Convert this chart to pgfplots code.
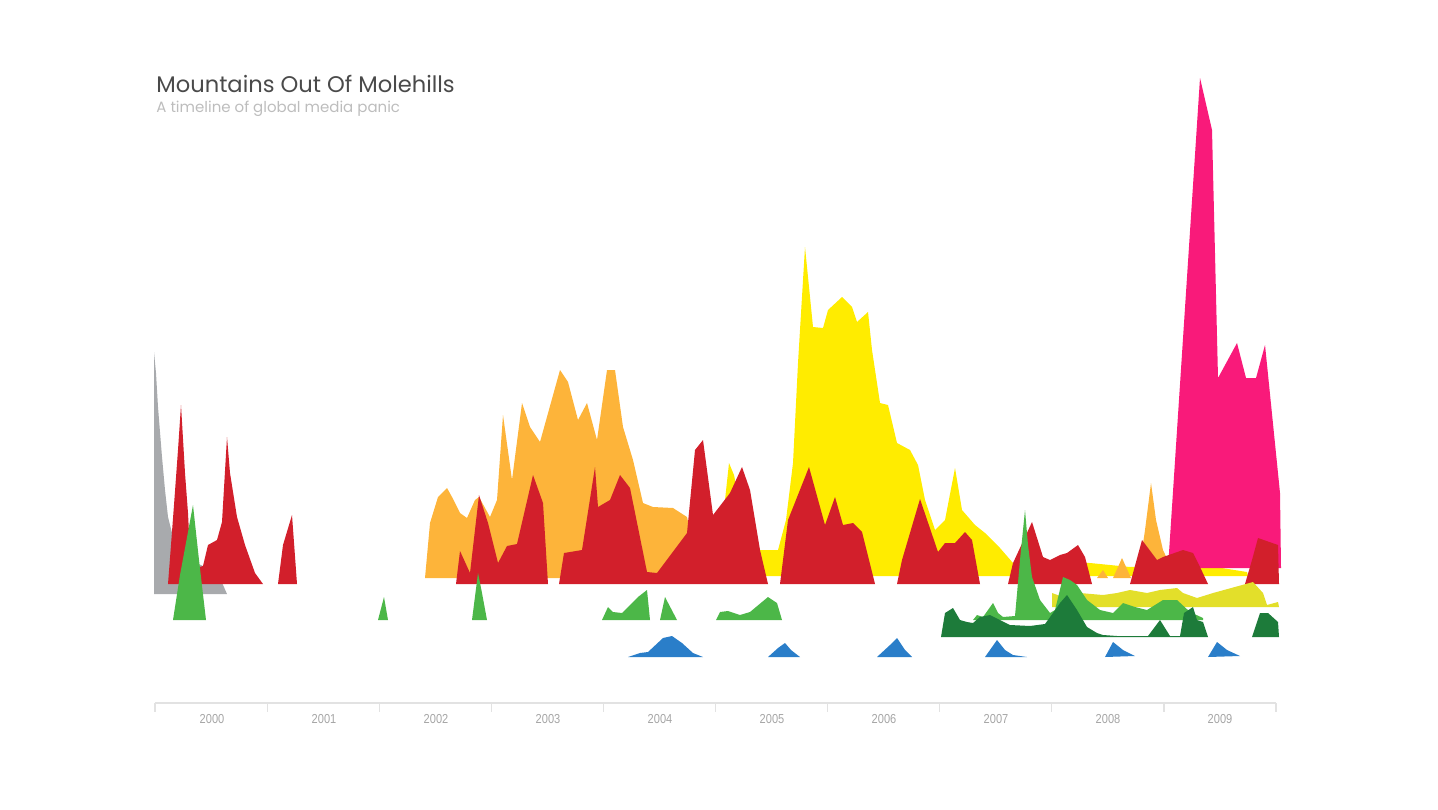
\documentclass[border=0pt]{standalone}
\usepackage{pgfplots}
\pgfplotsset{compat=1.18}
\usepackage{fontspec}
\setmainfont{Poppins}
\newfontfamily\yearfont{Liberation Sans}
\definecolor{cGray}{HTML}{A8AAAD}
\definecolor{cRed}{HTML}{D21F2B}
\definecolor{cOrange}{HTML}{FDB43A}
\definecolor{cYellow}{HTML}{FFEC00}
\definecolor{cPink}{HTML}{F91A7A}
\definecolor{cGreen}{HTML}{4CB748}
\definecolor{cDark}{HTML}{1D7B3A}
\definecolor{cOlive}{HTML}{E3DF2A}
\definecolor{cBlue}{HTML}{2A7EC9}
\definecolor{cTitle}{HTML}{4A4A4A}
\definecolor{cSub}{HTML}{BDBDBD}
\definecolor{cAxis}{HTML}{E2E2E2}
\definecolor{cYear}{HTML}{A5A5A5}
\pgfplotsset{
  sGray/.style={fill=cGray,draw=none},
  sRed/.style={fill=cRed,draw=none},
  sOrange/.style={fill=cOrange,draw=none},
  sYellow/.style={fill=cYellow,draw=none},
  sPink/.style={fill=cPink,draw=none},
  sGreen/.style={fill=cGreen,draw=none},
  sDark/.style={fill=cDark,draw=none},
  sOlive/.style={fill=cOlive,draw=none},
  sBlue/.style={fill=cBlue,draw=none},
}
\tikzset{yrlab/.style={text=cYear, font=\yearfont\fontsize{6.5}{7}\selectfont, inner sep=0}}
\begin{document}
\begin{tikzpicture}
\begin{axis}[width=719pt, height=404.5pt, scale only axis, hide axis,
  xmin=0, xmax=1438, ymin=0, ymax=809, y dir=reverse, clip=false]
\path (axis cs:0,0) rectangle (axis cs:1438,809);
% ---- gray
\addplot[sGray] coordinates {(154,594) (154,352) (156,373) (158,407) (162,457) (165,490) (168,517) (172,533) (183,557) (203,566) (220,578) (227,594)};
% ---- yellow
\addplot[sYellow] coordinates {(722,576) (725,500) (729,463) (734,475) (745,530) (760,550) (778,550) (786,520) (793,463) (798,363) (805,247) (813,327) (823,328) (828,310) (842,297) (852,307) (857,322) (868,312) (872,350) (880,403) (888,405) (897,443) (910,450) (918,465) (925,500) (935,530) (945,520) (955,468) (962,510) (975,525) (985,533) (1000,548) (1013,563) (1030,562) (1090,563) (1130,567) (1203,565) (1247,572) (1248,576)};
% ---- orange
\addplot[sOrange] coordinates {(425,578) (430,523) (438,497) (447,488) (452,497) (460,513) (467,518) (475,500) (479,497) (490,517) (497,500) (503,415) (512,480) (522,403) (530,427) (540,442) (560,370) (568,382) (578,420) (587,403) (597,440) (607,370) (615,370) (623,427) (633,460) (643,503) (653,507) (673,508) (687,517) (692,540) (694,578)};
\addplot[sOrange] coordinates {(1097,578) (1103,570) (1108,578)};
\addplot[sOrange] coordinates {(1113,578) (1122,558) (1131,578)};
\addplot[sOrange] coordinates {(1138,578) (1145,530) (1151,483) (1156,520) (1163,550) (1170,565) (1172,578)};
% ---- pink
\addplot[sPink] coordinates {(1168,568) (1200,78) (1212,130) (1218,378) (1237,343) (1246,378) (1256,378) (1265,345) (1280,493) (1281,568)};
% ---- red
\addplot[sRed] coordinates {(168,584) (171,545) (174,505) (178,450) (181,405) (185,473) (188,513) (190,553) (196,568) (203,566) (208,545) (217,540) (222,522) (227,437) (230,473) (237,517) (245,545) (255,573) (263,584)};
\addplot[sRed] coordinates {(278,584) (283,545) (292,515) (297,584)};
\addplot[sRed] coordinates {(456,584) (460,551) (470,573) (479,495) (488,523) (498,563) (507,546) (517,544) (533,475) (543,503) (548,584)};
\addplot[sRed] coordinates {(559,584) (564,553) (582,550) (595,467) (598,507) (610,500) (620,475) (630,488) (647,572) (657,573) (687,533) (695,450) (703,440) (713,515) (730,493) (742,467) (750,490) (760,550) (768,584)};
\addplot[sRed] coordinates {(780,584) (788,520) (809,467) (825,525) (835,497) (843,525) (853,523) (862,532) (875,584)};
\addplot[sRed] coordinates {(897,584) (902,560) (920,499) (938,552) (945,543) (955,543) (965,532) (972,540) (980,584)};
\addplot[sRed] coordinates {(1008,584) (1013,563) (1032,522) (1043,557) (1050,560) (1060,555) (1067,553) (1078,545) (1085,557) (1092,584)};
\addplot[sRed] coordinates {(1130,584) (1142,540) (1157,560) (1163,557) (1183,550) (1193,553) (1200,567) (1208,584)};
\addplot[sRed] coordinates {(1245,584) (1252,560) (1258,538) (1278,545) (1279,584)};
% ---- lower yellow
\addplot[sOlive] coordinates {(1052,607) (1052,593) (1063,597) (1080,593) (1103,595) (1117,593) (1130,590) (1147,593) (1160,590) (1177,588) (1183,593) (1197,598) (1213,593) (1253,582) (1263,593) (1267,605) (1278,602) (1279,607)};
% ---- green
\addplot[sGreen] coordinates {(173,620) (180,575) (193,505) (199,560) (206,620)};
\addplot[sGreen] coordinates {(378,620) (384,597) (388,620)};
\addplot[sGreen] coordinates {(472,620) (478,573) (482,593) (487,620)};
\addplot[sGreen] coordinates {(602,620) (608,607) (613,612) (622,613) (638,597) (647,590) (650,620)};
\addplot[sGreen] coordinates {(660,620) (665,597) (677,620)};
\addplot[sGreen] coordinates {(716,620) (720,612) (728,611) (740,615) (750,612) (768,597) (777,603) (782,620)};
\addplot[sGreen] coordinates {(973,620) (977,615) (983,617) (993,603) (998,613) (1003,617) (1015,616) (1020,560) (1025,510) (1028,545) (1032,577) (1040,600) (1050,613) (1055,610) (1063,577) (1070,580) (1077,585) (1087,600) (1100,610) (1113,613) (1123,603) (1135,607) (1147,610) (1163,600) (1177,600) (1190,612) (1203,618) (1203,620)};
% ---- dark green
\addplot[sDark] coordinates {(941,637) (945,613) (953,608) (960,620) (967,622) (973,623) (980,617) (990,615) (1000,620) (1010,625) (1030,626) (1045,624) (1053,613) (1060,603) (1067,595) (1077,610) (1087,627) (1097,633) (1103,635) (1117,636) (1148,636) (1160,620) (1170,636) (1180,636) (1184,613) (1193,607) (1197,620) (1203,622) (1208,637)};
\addplot[sDark] coordinates {(1252,637) (1260,613) (1268,613) (1278,622) (1279,637)};
% ---- blue
\addplot[sBlue] coordinates {(628,657) (640,653) (648,652) (663,638) (672,636) (682,643) (693,653) (703,657)};
\addplot[sBlue] coordinates {(768,657) (778,648) (785,643) (791,650) (800,657)};
\addplot[sBlue] coordinates {(877,657) (890,645) (897,638) (905,650) (912,657)};
\addplot[sBlue] coordinates {(985,657) (997,640) (1005,650) (1013,655) (1027,657)};
\addplot[sBlue] coordinates {(1105,657) (1113,642) (1123,650) (1135,656)};
\addplot[sBlue] coordinates {(1208,657) (1217,642) (1227,650) (1240,656)};
% ---- timeline
\draw[cAxis, line width=0.6pt] (axis cs:155,703) -- (axis cs:1276,703);
\pgfplotsinvokeforeach{0,...,10}{
  \draw[cAxis, line width=0.6pt] (axis cs:{155+112.1*#1},703) -- (axis cs:{155+112.1*#1},712);
}
\node[yrlab] at (axis cs:212,719) {\scalebox{0.85}[1]{2000}};
\node[yrlab] at (axis cs:324,719) {\scalebox{0.85}[1]{2001}};
\node[yrlab] at (axis cs:436,719) {\scalebox{0.85}[1]{2002}};
\node[yrlab] at (axis cs:548,719) {\scalebox{0.85}[1]{2003}};
\node[yrlab] at (axis cs:660,719) {\scalebox{0.85}[1]{2004}};
\node[yrlab] at (axis cs:772,719) {\scalebox{0.85}[1]{2005}};
\node[yrlab] at (axis cs:884,719) {\scalebox{0.85}[1]{2006}};
\node[yrlab] at (axis cs:996,719) {\scalebox{0.85}[1]{2007}};
\node[yrlab] at (axis cs:1108,719) {\scalebox{0.85}[1]{2008}};
\node[yrlab] at (axis cs:1220,719) {\scalebox{0.85}[1]{2009}};
% ---- titles
\node[anchor=base west, inner sep=0, text=cTitle, font=\fontsize{11.3}{14}\selectfont] at (axis cs:156,92) {Mountains Out Of Molehills};
\node[anchor=base west, inner sep=0, text=cSub, font=\fontsize{7.5}{9}\selectfont] at (axis cs:156,112) {A timeline of global media panic};
\end{axis}
\end{tikzpicture}
\end{document}
